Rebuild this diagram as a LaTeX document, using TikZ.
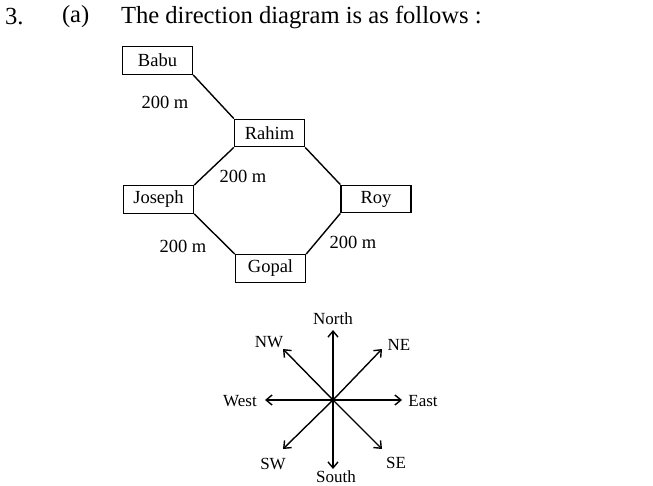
\documentclass[tikz,border=0pt]{standalone}
\usepackage{fontspec}
\setmainfont{Liberation Serif}
\usetikzlibrary{arrows.meta}

\begin{document}
\begin{tikzpicture}[x=1pt,y=-1pt,line width=1.4pt,
  place/.style={draw,minimum width=70pt,minimum height=27.5pt,inner sep=0pt,font=\fontsize{18.5}{21}\selectfont},
  dist/.style={font=\fontsize{18.5}{21}\selectfont},
  dirn/.style={font=\fontsize{17}{19}\selectfont,inner sep=0pt},
  >={Straight Barb[length=6pt,width=10pt]}]
\useasboundingbox (0,0) rectangle (653,486);
% heading
\node[anchor=west,font=\fontsize{24.6}{28}\selectfont] (num) at (1,17) {3.};
\node[anchor=west,font=\fontsize{24.6}{28}\selectfont] (part) at (58,17) {(a)};
\node[anchor=west,font=\fontsize{24.6}{28}\selectfont] (head) at (117,17) {The direction diagram is as follows :};
% friends
\node[place] (babu) at (157.5,60.5){Babu};
\node[place] (rahim) at (269.5,133){Rahim};
\node[place] (joseph) at (158.5,199.5){Joseph};
\node[place] (roy) at (376,199){Roy};
\node[place] (gopal) at (270.5,268.5){Gopal};
\draw (babu.south east)--(rahim.north west);
\draw (rahim.south west)--(joseph.north east);
\draw (rahim.south east)--(roy.north west);
\draw (joseph.south east)--(gopal.north west);
\draw (gopal.north east)--(roy.south west);
\node[dist] (d1) at (165,102){200 m};
\node[dist] (d2) at (243,176){200 m};
\node[dist] (d3) at (183,246){200 m};
\node[dist] (d4) at (353,242){200 m};
% directions
\coordinate (o) at (333,400);
\coordinate (n) at (333,330);
\coordinate (s) at (333,469);
\coordinate (e) at (402,400);
\coordinate (w) at (265,400);
\coordinate (ne) at (382,349);
\coordinate (nw) at (283,349);
\coordinate (se) at (382,449);
\coordinate (sw) at (283,449);
\foreach \p in {n,s,e,w,ne,nw,se,sw} \draw[->] (o)--(\p);
\node[dirn] (north) at (333,319){North};
\node[dirn,anchor=base] (south) at (336,482){South};
\node[dirn] (east) at (423,401){East};
\node[dirn] (west) at (240,401){West};
\node[dirn] (nel) at (399,345){NE};
\node[dirn] (nwl) at (269,342){NW};
\node[dirn] (sel) at (396,463){SE};
\node[dirn] (swl) at (273,464){SW};
\end{tikzpicture}
\end{document}
